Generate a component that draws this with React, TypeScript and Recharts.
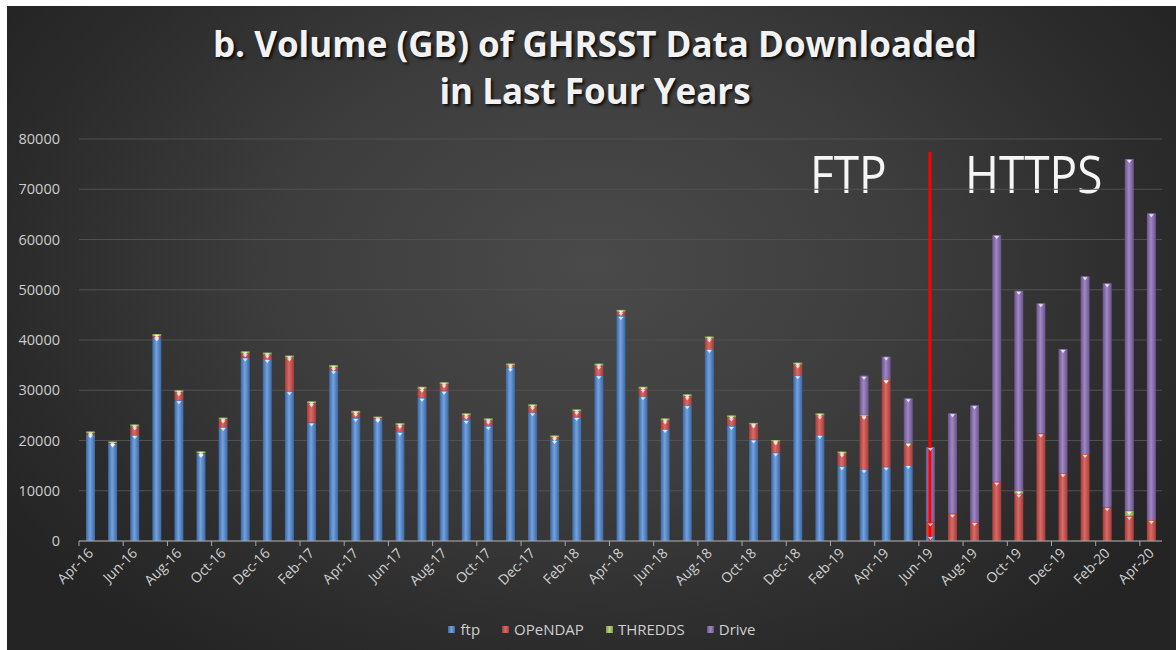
import React from "react";
import {
  BarChart,
  Bar,
  XAxis,
  YAxis,
  CartesianGrid,
  Legend,
  ReferenceLine,
  LabelList,
} from "recharts";

const months = [
  "Apr-16", "May-16", "Jun-16", "Jul-16", "Aug-16", "Sep-16", "Oct-16", "Nov-16", "Dec-16",
  "Jan-17", "Feb-17", "Mar-17", "Apr-17", "May-17", "Jun-17", "Jul-17", "Aug-17", "Sep-17",
  "Oct-17", "Nov-17", "Dec-17", "Jan-18", "Feb-18", "Mar-18", "Apr-18", "May-18", "Jun-18",
  "Jul-18", "Aug-18", "Sep-18", "Oct-18", "Nov-18", "Dec-18", "Jan-19", "Feb-19", "Mar-19",
  "Apr-19", "May-19", "Jun-19", "Jul-19", "Aug-19", "Sep-19", "Oct-19", "Nov-19", "Dec-19",
  "Jan-20", "Feb-20", "Mar-20", "Apr-20",
];

const ftp = [
  21200, 19400, 21100, 40500, 28000, 17300, 22700, 36500, 36200,
  29800, 23600, 34000, 24500, 24300, 21700, 28500, 29900, 24100,
  22900, 34500, 25600, 20100, 24700, 33000, 44800, 28800, 22300,
  27000, 38200, 22900, 20200, 17600, 33000, 21100, 14900, 14300,
  14800, 15100, 1000, 0, 0, 0, 0, 0, 0,
  0, 0, 0, 0,
];

const opendap = [
  300, 100, 1700, 300, 1600, 200, 1500, 850, 900,
  6700, 3800, 600, 1000, 150, 1400, 1800, 1300, 900,
  1100, 450, 1200, 550, 1100, 1900, 800, 1500, 1700,
  1800, 2100, 1700, 3000, 2200, 2100, 3900, 2500, 10600,
  17300, 4400, 2700, 5400, 3800, 11800, 9400, 21400, 13500,
  17300, 6700, 5000, 4200,
];

const thredds = [
  300, 300, 400, 400, 400, 350, 350, 400, 400,
  400, 400, 400, 400, 300, 350, 400, 400, 400,
  400, 350, 400, 350, 400, 400, 400, 400, 400,
  400, 400, 400, 300, 300, 400, 400, 400, 200,
  100, 100, 0, 0, 0, 0, 600, 0, 0,
  0, 0, 1000, 0,
];

const drive = [
  0, 0, 0, 0, 0, 0, 0, 0, 0,
  0, 0, 0, 0, 0, 0, 0, 0, 0,
  0, 0, 0, 0, 0, 0, 0, 0, 0,
  0, 0, 0, 0, 0, 0, 0, 0, 7800,
  4500, 8800, 15000, 20000, 23200, 49100, 39800, 25900, 24700,
  35400, 44600, 70000, 61000,
];

const yTicks = [0, 10000, 20000, 30000, 40000, 50000, 60000, 70000, 80000];

const seriesInfo = [
  { key: "ftp", name: "ftp", base: "#4f81bd", dark: "#3a68a6", light: "#74a2de" },
  { key: "opendap", name: "OPeNDAP", base: "#c0504d", dark: "#a53b39", light: "#d96b67" },
  { key: "thredds", name: "THREDDS", base: "#9bbb59", dark: "#7f9d44", light: "#b9d47e" },
  { key: "drive", name: "Drive", base: "#8064a2", dark: "#6a528d", light: "#a088c2" },
];

const data = months.map((m, i) => ({
  month: m,
  ftp: ftp[i],
  opendap: opendap[i],
  thredds: thredds[i],
  drive: drive[i],
}));

const BAND = (1176 - 79 - 14) / months.length;

const XTick = (props: any) => {
  const { x, y, payload } = props;
  const tx = x - BAND / 2;
  return (
    <g>
      <line x1={tx} y1={y} x2={tx} y2={y + 5} stroke="#a6a6a6" strokeWidth={1} />
      <text
        x={x + 4}
        y={y + 13}
        textAnchor="end"
        fill="#d0d0d0"
        fontSize={14}
        fontFamily="'Open Sans', sans-serif"
        transform={`rotate(-45, ${x + 4}, ${y + 13})`}
      >
        {payload.value}
      </text>
    </g>
  );
};

const TopMark = (props: any) => {
  const { x, y, width, value } = props;
  if (!value || value <= 0) return null;
  const cx = x + width / 2;
  const ty = y + 1;
  return (
    <path
      d={`M${cx - 2.5},${ty} L${cx + 2.5},${ty} L${cx},${ty + 3} Z`}
      fill="#ffffff"
      fillOpacity={0.75}
    />
  );
};

const renderLegend = () => (
  <div
    style={{
      display: "flex",
      justifyContent: "center",
      alignItems: "center",
      gap: 22,
      fontFamily: "'Open Sans', sans-serif",
      fontSize: 15,
      color: "#cfcfcf",
    }}
  >
    {seriesInfo.map((s) => (
      <div key={s.key} style={{ display: "flex", alignItems: "center", gap: 5 }}>
        <span
          style={{
            display: "inline-block",
            width: 7,
            height: 7,
            background: `linear-gradient(90deg, ${s.dark}, ${s.light}, ${s.dark})`,
          }}
        />
        <span>{s.name}</span>
      </div>
    ))}
  </div>
);

const annStyle: React.CSSProperties = {
  position: "absolute",
  top: 142,
  fontFamily: "'Open Sans', sans-serif",
  fontSize: 46,
  color: "#f5f5f5",
  lineHeight: "56px",
  transform: "scaleY(1.1)",
  transformOrigin: "0 0",
};

export default function App() {
  return (
    <div
      style={{
        position: "absolute",
        left: 0,
        top: 0,
        width: 1176,
        height: 650,
        background: "#ffffff",
        overflow: "hidden",
      }}
    >
      <div
        style={{
          position: "absolute",
          left: 7,
          top: 6,
          width: 1169,
          height: 644,
          background:
            "radial-gradient(ellipse 60% 75% at 50% 40%, #4a4a4a 0%, #3d3d3d 45%, #2c2c2c 80%, #242424 100%)",
        }}
      />
      <div
        style={{
          position: "absolute",
          left: 0,
          top: 20,
          width: 1190,
          textAlign: "center",
          fontFamily: "'Open Sans', sans-serif",
          fontWeight: 700,
          fontSize: 35,
          lineHeight: "47px",
          color: "#f2f2f2",
          textShadow: "2px 2px 3px rgba(0,0,0,0.8)",
        }}
      >
        <div>b. Volume (GB) of GHRSST Data Downloaded</div>
        <div>in Last Four Years</div>
      </div>
      <div style={{ ...annStyle, left: 810 }}>FTP</div>
      <div style={{ ...annStyle, left: 965 }}>HTTPS</div>
      <div style={{ position: "absolute", left: 0, top: 0 }}>
        <BarChart
          width={1176}
          height={650}
          data={data}
          margin={{ top: 139, right: 14, left: 19, bottom: 39 }}
          barCategoryGap={0}
        >
          <defs>
            {seriesInfo.map((s) => (
              <linearGradient key={s.key} id={`grad-${s.key}`} x1="0" y1="0" x2="1" y2="0">
                <stop offset="0%" stopColor={s.dark} />
                <stop offset="45%" stopColor={s.light} />
                <stop offset="100%" stopColor={s.dark} />
              </linearGradient>
            ))}
          </defs>
          <CartesianGrid vertical={false} stroke="#505050" strokeWidth={1} />
          <XAxis
            dataKey="month"
            interval={1}
            height={70}
            tickSize={0}
            tickMargin={0}
            tickLine={false}
            axisLine={{ stroke: "#a6a6a6", strokeWidth: 1 }}
            tick={<XTick />}
          />
          <YAxis
            width={60}
            domain={[0, 80000]}
            ticks={yTicks}
            axisLine={false}
            tickLine={false}
            tickMargin={13}
            tick={{ fill: "#cccccc", fontSize: 14.5, fontFamily: "'Open Sans', sans-serif" }}
          />
          {seriesInfo.map((s) => (
            <Bar
              key={s.key}
              dataKey={s.key}
              name={s.name}
              stackId="a"
              fill={`url(#grad-${s.key})`}
              barSize={9}
              isAnimationActive={false}
              legendType="square"
            >
              <LabelList dataKey={s.key} content={<TopMark />} />
            </Bar>
          ))}
          <ReferenceLine
            segment={[
              { x: "Jun-19", y: 0 },
              { x: "Jun-19", y: 77400 },
            ]}
            stroke="#ff0000"
            strokeWidth={3}
          />
          <Legend
            verticalAlign="middle"
            layout="horizontal"
            align="center"
            content={renderLegend}
            wrapperStyle={{ top: 619, left: 14, width: 1176, height: 20 }}
          />
        </BarChart>
      </div>
    </div>
  );
}
